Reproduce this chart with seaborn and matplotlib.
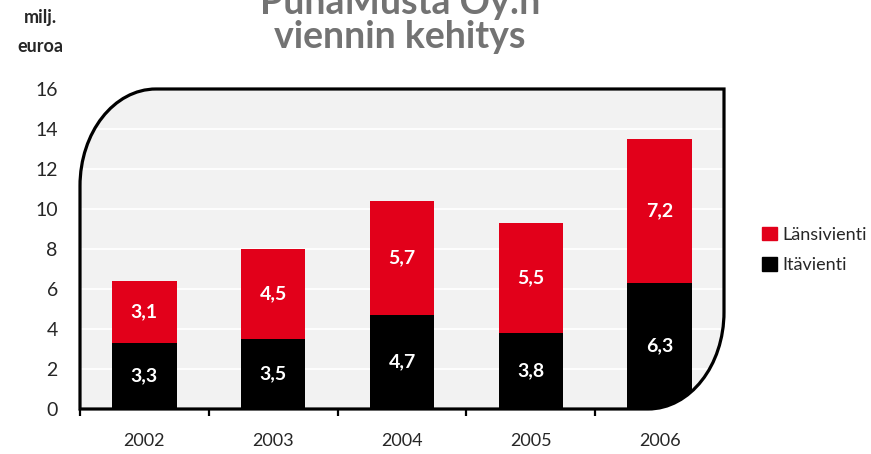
import numpy as np
import pandas as pd
import matplotlib.pyplot as plt
from matplotlib.path import Path
from matplotlib.patches import PathPatch, Patch
import seaborn as sns

sns.set_style("white")
plt.rcParams["font.family"] = ["Lato", "DejaVu Sans"]

# data
years = ["2002", "2003", "2004", "2005", "2006"]
ita = [3.3, 3.5, 4.7, 3.8, 6.3]        # Itävienti (black)
lansi = [3.1, 4.5, 5.7, 5.5, 7.2]      # Länsivienti (red)
yticks = [0, 2, 4, 6, 8, 10, 12, 14, 16]

RED = "#e2001a"
PANEL = "#f2f2f2"

df = pd.DataFrame({"vuosi": years, "ita": ita, "lansi": lansi})
df["yht"] = df["ita"] + df["lansi"]

fig = plt.figure(figsize=(8.71, 4.54), dpi=100)
ax = fig.add_axes([80 / 871, 1 - 409 / 454, 644 / 871, 320 / 454])

# rounded panel: top-left and bottom-right corners rounded
rx, ry = 76 / 644, 97 / 320
k = 0.5523
verts = [
    (0, 0),
    (1 - rx, 0),
    (1 - rx + k * rx, 0), (1, ry - k * ry), (1, ry),
    (1, 1),
    (rx, 1),
    (rx - k * rx, 1), (0, 1 - ry + k * ry), (0, 1 - ry),
    (0, 0),
]
codes = [Path.MOVETO, Path.LINETO, Path.CURVE4, Path.CURVE4, Path.CURVE4,
         Path.LINETO, Path.LINETO, Path.CURVE4, Path.CURVE4, Path.CURVE4,
         Path.CLOSEPOLY]
path = Path(verts, codes)
face = PathPatch(path, transform=ax.transAxes, facecolor=PANEL,
                 edgecolor="none", zorder=0.1)
border = PathPatch(path, transform=ax.transAxes, facecolor="none",
                   edgecolor="black", linewidth=2.3, zorder=5, clip_on=False)
ax.add_patch(face)
ax.add_patch(border)

sns.barplot(data=df, x="vuosi", y="yht", color=RED, saturation=1,
            width=0.5, linewidth=0, ax=ax, zorder=2)
sns.barplot(data=df, x="vuosi", y="ita", color="black", saturation=1,
            width=0.5, linewidth=0, ax=ax, zorder=2)
for bar in ax.patches:
    if bar is not face and bar is not border:
        bar.set_clip_path(face)

# value labels
for i, row in df.iterrows():
    ax.text(i, row["ita"] / 2, f"{row['ita']:.1f}".replace(".", ","),
            ha="center", va="center", color="white", fontsize=14,
            fontweight="bold", zorder=3)
    ax.text(i, row["ita"] + row["lansi"] / 2,
            f"{row['lansi']:.1f}".replace(".", ","),
            ha="center", va="center", color="white", fontsize=14,
            fontweight="bold", zorder=3)

ax.set_xlim(-0.5, len(years) - 0.5)
ax.set_ylim(0, 16)
ax.set_yticks(yticks)
ax.set_xticks(np.arange(len(years)) - 0.5, minor=True)
ax.tick_params(axis="y", length=0, pad=16, labelsize=14)
ax.tick_params(axis="x", which="major", length=0, pad=17, labelsize=13)
ax.tick_params(axis="x", which="minor", length=5, width=1.6, color="black",
               direction="out", bottom=True)
ax.set_xlabel("")
ax.set_ylabel("")
for s in ax.spines.values():
    s.set_visible(False)
ax.set_facecolor("none")

ax.set_axisbelow(True)
ax.grid(axis="y", color="white", linewidth=1.3)
for gl in ax.get_ygridlines():
    gl.set_clip_path(face)

# titles
fig.text(0.459, 1 - 14 / 454, "PunaMusta Oy:n", ha="center", va="baseline",
         fontsize=27, fontweight="bold", color="#737373")
fig.text(0.459, 1 - 48 / 454, "viennin kehitys", ha="center", va="baseline",
         fontsize=27, fontweight="bold", color="#737373")
fig.text(40 / 871, 1 - 18 / 454, "milj.", ha="center", va="center",
         fontsize=13, fontweight="bold")
fig.text(40 / 871, 1 - 46 / 454, "euroa", ha="center", va="center",
         fontsize=13, fontweight="bold")

handles = [Patch(color=RED, label="Länsivienti"),
           Patch(color="black", label="Itävienti")]
fig.legend(handles=handles, loc="center left",
           bbox_to_anchor=(755 / 871, 1 - 250 / 454), frameon=False,
           fontsize=13, handlelength=0.8, handleheight=0.8,
           handletextpad=0.3, labelspacing=0.8, borderaxespad=0)

fig.savefig("out.png", dpi=100)
